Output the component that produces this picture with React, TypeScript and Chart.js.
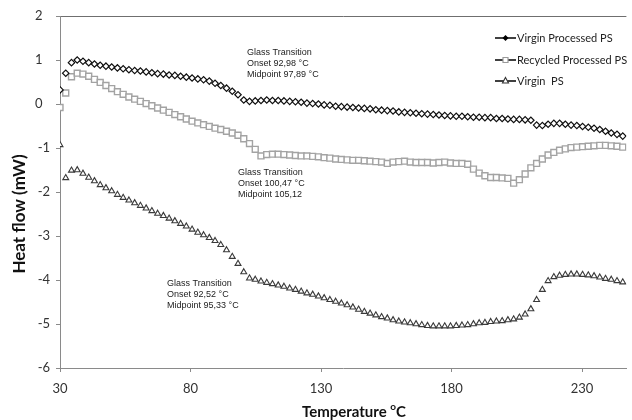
import React, { useEffect, useRef } from "react";
import { Chart, registerables } from "chart.js";

Chart.register(...registerables);

// Temperature (°C) of every sample
const temperatures = [
  30.0, 32.2, 34.4, 36.6, 38.8, 41.0, 43.2, 45.4, 47.6, 49.8,
  52.0, 54.2, 56.4, 58.6, 60.8, 63.0, 65.2, 67.4, 69.6, 71.8,
  74.0, 76.2, 78.4, 80.6, 82.8, 85.0, 87.2, 89.4, 91.6, 93.8,
  96.0, 98.2, 100.4, 102.6, 104.8, 107.0, 109.2, 111.4, 113.6, 115.8,
  118.0, 120.2, 122.4, 124.6, 126.8, 129.0, 131.2, 133.4, 135.6, 137.8,
  140.0, 142.2, 144.4, 146.6, 148.8, 151.0, 153.2, 155.4, 157.6, 159.8,
  162.0, 164.2, 166.4, 168.6, 170.8, 173.0, 175.2, 177.4, 179.6, 181.8,
  184.0, 186.2, 188.4, 190.6, 192.8, 195.0, 197.2, 199.4, 201.6, 203.8,
  206.0, 208.2, 210.4, 212.6, 214.8, 217.0, 219.2, 221.4, 223.6, 225.8,
  228.0, 230.2, 232.4, 234.6, 236.8, 239.0, 241.2, 243.4, 245.6,
];

// Heat flow (mW)
const virginProcessedPS = [
  0.32, 0.70, 0.94, 1.00, 0.97, 0.94, 0.91, 0.88, 0.86, 0.84,
  0.82, 0.80, 0.78, 0.76, 0.75, 0.73, 0.71, 0.69, 0.68, 0.66,
  0.65, 0.63, 0.61, 0.59, 0.57, 0.55, 0.52, 0.47, 0.42, 0.36,
  0.29, 0.21, 0.09, 0.06, 0.07, 0.08, 0.09, 0.08, 0.08, 0.07,
  0.06, 0.05, 0.04, 0.02, 0.01, 0.00, -0.02, -0.03, -0.05, -0.06,
  -0.07, -0.08, -0.09, -0.10, -0.11, -0.13, -0.14, -0.15, -0.16, -0.18,
  -0.19, -0.20, -0.21, -0.22, -0.23, -0.24, -0.25, -0.26, -0.27, -0.28,
  -0.28, -0.29, -0.30, -0.30, -0.31, -0.31, -0.33, -0.33, -0.34, -0.35,
  -0.35, -0.36, -0.37, -0.48, -0.49, -0.46, -0.44, -0.44, -0.46, -0.48,
  -0.49, -0.51, -0.53, -0.55, -0.58, -0.62, -0.66, -0.69, -0.73,
];

const recycledProcessedPS = [
  -0.08, 0.25, 0.62, 0.70, 0.68, 0.63, 0.56, 0.49, 0.42, 0.35,
  0.28, 0.22, 0.16, 0.11, 0.06, 0.01, -0.04, -0.09, -0.14, -0.19,
  -0.24, -0.29, -0.34, -0.39, -0.43, -0.47, -0.51, -0.55, -0.58, -0.62,
  -0.66, -0.71, -0.79, -0.90, -1.03, -1.18, -1.15, -1.14, -1.14, -1.15,
  -1.16, -1.17, -1.18, -1.18, -1.19, -1.20, -1.22, -1.23, -1.25, -1.26,
  -1.27, -1.28, -1.28, -1.29, -1.30, -1.31, -1.32, -1.35, -1.32, -1.31,
  -1.30, -1.32, -1.33, -1.33, -1.33, -1.34, -1.33, -1.32, -1.34, -1.35,
  -1.35, -1.37, -1.48, -1.57, -1.63, -1.67, -1.67, -1.68, -1.69, -1.80,
  -1.72, -1.59, -1.45, -1.35, -1.25, -1.16, -1.10, -1.05, -1.02, -0.99,
  -0.98, -0.97, -0.96, -0.95, -0.94, -0.94, -0.95, -0.96, -0.98,
];

const virginPS = [
  -0.93, -1.68, -1.51, -1.50, -1.58, -1.67, -1.75, -1.84, -1.91, -1.98,
  -2.06, -2.13, -2.19, -2.25, -2.31, -2.37, -2.43, -2.49, -2.54, -2.60,
  -2.66, -2.72, -2.78, -2.85, -2.92, -2.98, -3.04, -3.11, -3.20, -3.32,
  -3.47, -3.63, -3.82, -3.96, -3.99, -4.03, -4.06, -4.09, -4.12, -4.15,
  -4.19, -4.22, -4.26, -4.30, -4.33, -4.37, -4.41, -4.45, -4.49, -4.53,
  -4.57, -4.62, -4.67, -4.72, -4.76, -4.80, -4.84, -4.87, -4.91, -4.94,
  -4.96, -4.98, -5.00, -5.02, -5.04, -5.05, -5.05, -5.05, -5.05, -5.04,
  -5.03, -5.02, -5.00, -4.98, -4.97, -4.95, -4.94, -4.93, -4.91, -4.89,
  -4.85, -4.78, -4.66, -4.45, -4.22, -4.02, -3.93, -3.90, -3.88, -3.87,
  -3.87, -3.88, -3.89, -3.91, -3.94, -3.97, -3.99, -4.02, -4.05,
];

const xTicks = [30, 80, 130, 180, 230];

const seriesNames = ["Virgin Processed PS", "Recycled Processed PS", "Virgin  PS"];

const transitionNotes = [
  ["Glass Transition", "Onset 92,98 °C", "Midpoint 97,89 °C"],
  ["Glass Transition", "Onset 100,47 °C", "Midpoint 105,12"],
  ["Glass Transition", "Onset 92,52 °C", "Midpoint 95,33 °C"],
];

const yTitle = "Heat flow (mW)";
const xTitle = "Temperature";

const toPoints = (values: number[]) => temperatures.map((t, i) => ({ x: t, y: values[i] }));

const AXIS_GREY = "#8a8a8a";
const TEXT_DARK = "#333333";

function drawMarker(ctx: CanvasRenderingContext2D, style: string, x: number, y: number) {
  ctx.beginPath();
  if (style === "diamond") {
    ctx.moveTo(x, y - 3);
    ctx.lineTo(x + 3, y);
    ctx.lineTo(x, y + 3);
    ctx.lineTo(x - 3, y);
    ctx.closePath();
    ctx.fillStyle = "#000";
    ctx.fill();
  } else if (style === "square") {
    ctx.rect(x - 2.5, y - 2.5, 5, 5);
    ctx.fillStyle = "#fff";
    ctx.fill();
    ctx.strokeStyle = "#999";
    ctx.lineWidth = 1.2;
    ctx.stroke();
  } else {
    ctx.moveTo(x, y - 3.5);
    ctx.lineTo(x + 3, y + 2);
    ctx.lineTo(x - 3, y + 2);
    ctx.closePath();
    ctx.fillStyle = "#fff";
    ctx.fill();
    ctx.strokeStyle = "#333";
    ctx.lineWidth = 1.1;
    ctx.stroke();
  }
}

// Legend, transition notes and axis titles
const overlayPlugin = {
  id: "overlay",
  afterDraw(chart: any) {
    const ctx: CanvasRenderingContext2D = chart.ctx;
    ctx.save();

    // legend inside the plot, top right
    const markerStyles = ["diamond", "square", "triangle"];
    const legendY = [38, 60, 81];
    seriesNames.forEach((name, i) => {
      const y = legendY[i];
      ctx.beginPath();
      ctx.moveTo(495, y);
      ctx.lineTo(516, y);
      ctx.strokeStyle = "#111";
      ctx.lineWidth = 1.6;
      ctx.stroke();
      drawMarker(ctx, markerStyles[i], 505.5, y);
      ctx.fillStyle = "#222";
      ctx.font = "11px Lato";
      ctx.textBaseline = "middle";
      ctx.textAlign = "left";
      ctx.fillText(name, 517, y);
    });

    // glass transition notes
    const notePos = [
      [247, 53],
      [238, 173],
      [167, 284],
    ];
    ctx.font = "9px 'Liberation Sans'";
    ctx.fillStyle = "#1c1c1c";
    ctx.textBaseline = "middle";
    transitionNotes.forEach((lines, i) => {
      lines.forEach((line, j) => {
        ctx.fillText(line, notePos[i][0], notePos[i][1] + j * 11);
      });
    });

    // y axis title
    ctx.save();
    ctx.translate(20, 214);
    ctx.rotate(-Math.PI / 2);
    ctx.font = "bold 17px Lato";
    ctx.fillStyle = "#111";
    ctx.textAlign = "center";
    ctx.textBaseline = "middle";
    ctx.fillText(yTitle, 0, 0);
    ctx.restore();

    // x axis title with superscript degree mark
    ctx.font = "bold 15px Lato";
    const wMain = ctx.measureText(xTitle + " ").width;
    const wC = ctx.measureText("C").width;
    ctx.font = "bold 10px Lato";
    const wO = ctx.measureText("o").width;
    const total = wMain + wO + wC;
    let x = 354 - total / 2;
    ctx.fillStyle = "#111";
    ctx.textAlign = "left";
    ctx.textBaseline = "alphabetic";
    ctx.font = "bold 15px Lato";
    ctx.fillText(xTitle + " ", x, 417);
    x += wMain;
    ctx.font = "bold 10px Lato";
    ctx.fillText("o", x, 410);
    x += wO;
    ctx.font = "bold 15px Lato";
    ctx.fillText("C", x, 417);

    ctx.restore();
  },
};

export default function App() {
  const canvasRef = useRef<HTMLCanvasElement | null>(null);

  useEffect(() => {
    if (!canvasRef.current) return;
    const chart = new Chart(canvasRef.current, {
      type: "scatter",
      data: {
        datasets: [
          {
            label: seriesNames[0],
            data: toPoints(virginProcessedPS),
            pointStyle: "rectRot",
            pointRadius: 3.2,
            borderColor: "#111",
            backgroundColor: "#fff",
            borderWidth: 1.2,
            showLine: false,
          },
          {
            label: seriesNames[1],
            data: toPoints(recycledProcessedPS),
            pointStyle: "rect",
            pointRadius: 4.2,
            borderColor: "#a3a3a3",
            backgroundColor: "#fff",
            borderWidth: 1.4,
            showLine: false,
          },
          {
            label: seriesNames[2],
            data: toPoints(virginPS),
            pointStyle: "triangle",
            pointRadius: 3.4,
            borderColor: "#3a3a3a",
            backgroundColor: "#fff",
            borderWidth: 1.1,
            showLine: false,
          },
        ],
      },
      options: {
        animation: false,
        responsive: false,
        devicePixelRatio: 1,
        layout: { padding: { top: 16, right: 0, left: 0, bottom: 0 } },
        plugins: {
          legend: { display: false },
          tooltip: { enabled: false },
        },
        scales: {
          x: {
            type: "linear",
            min: 30,
            max: 247,
            afterBuildTicks: (scale: any) => {
              scale.ticks = xTicks.map((v) => ({ value: v }));
            },
            afterFit: (scale: any) => {
              scale.height = 52;
            },
            ticks: {
              font: { family: "Lato", size: 13 },
              color: TEXT_DARK,
              padding: 9,
              maxRotation: 0,
            },
            grid: {
              drawOnChartArea: false,
              tickLength: 4,
              tickColor: AXIS_GREY,
            },
            border: { color: AXIS_GREY, width: 1 },
          },
          y: {
            min: -6,
            max: 2,
            ticks: {
              stepSize: 1,
              font: { family: "Lato", size: 13 },
              color: TEXT_DARK,
              padding: 6,
              callback: (v: any) => (Number(v) >= 0 ? String(v) + "\u2007" : String(v)),
            },
            afterFit: (scale: any) => {
              scale.width = 60;
            },
            grid: {
              color: (c: any) => (c.tick && c.tick.value === 2 ? "#6f6f6f" : "rgba(0,0,0,0)"),
              tickLength: 4,
              tickColor: AXIS_GREY,
            },
            border: { color: AXIS_GREY, width: 1 },
          },
        },
      },
      plugins: [overlayPlugin],
    });
    return () => chart.destroy();
  }, []);

  return (
    <div style={{ position: "absolute", left: 0, top: 0, width: 632, height: 420, background: "#fff" }}>
      <canvas ref={canvasRef} width={632} height={420} style={{ display: "block" }} />
    </div>
  );
}
